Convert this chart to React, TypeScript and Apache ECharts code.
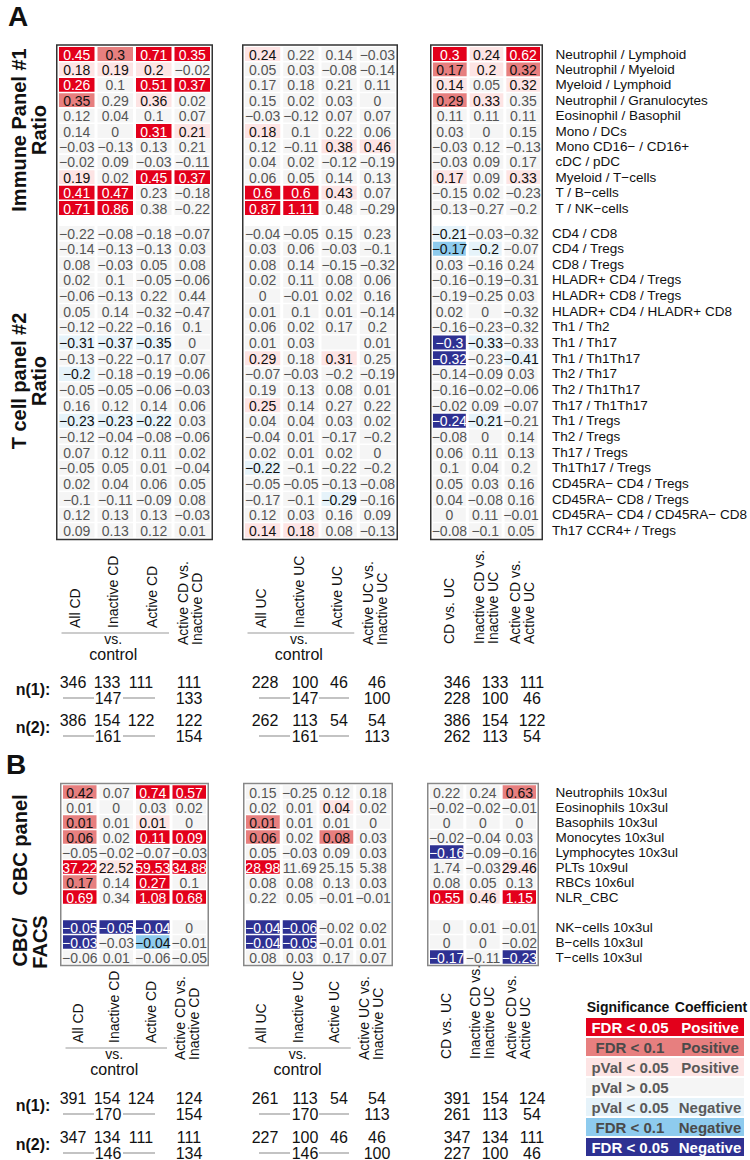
import React, { useEffect, useRef } from 'react';
import * as echarts from 'echarts';

// ---------------- Row / column categories ----------------
const immuneRows = [
  'Neutrophil / Lymphoid', 'Neutrophil / Myeloid', 'Myeloid / Lymphoid', 'Neutrophil / Granulocytes',
  'Eosinophil / Basophil', 'Mono / DCs', 'Mono CD16− / CD16+', 'cDC / pDC', 'Myeloid / T−cells',
  'T / B−cells', 'T / NK−cells',
];
const tcellRows = [
  'CD4 / CD8', 'CD4 / Tregs', 'CD8 / Tregs', 'HLADR+ CD4 / Tregs', 'HLADR+ CD8 / Tregs',
  'HLADR+ CD4 / HLADR+ CD8', 'Th1 / Th2', 'Th1 / Th17', 'Th1 / Th1Th17', 'Th2 / Th17', 'Th2 / Th1Th17',
  'Th17 / Th1Th17', 'Th1 / Tregs', 'Th2 / Tregs', 'Th17 / Tregs', 'Th1Th17 / Tregs', 'CD45RA− CD4 / Tregs',
  'CD45RA− CD8 / Tregs', 'CD45RA− CD4 / CD45RA− CD8', 'Th17 CCR4+ / Tregs',
];
const cbcRows = [
  'Neutrophils 10x3ul', 'Eosinophils 10x3ul', 'Basophils 10x3ul', 'Monocytes 10x3ul',
  'Lymphocytes 10x3ul', 'PLTs 10x9ul', 'RBCs 10x6ul', 'NLR_CBC',
];
const facsRows = ['NK−cells 10x3ul', 'B−cells 10x3ul', 'T−cells 10x3ul'];

const cdCols = ['All CD', 'Inactive CD', 'Active CD', 'Active CD vs.\nInactive CD'];
const ucCols = ['All UC', 'Inactive UC', 'Active UC', 'Active UC vs.\nInactive UC'];
const cmpCols = ['CD vs. UC', 'Inactive CD vs.\nInactive UC', 'Active CD vs.\nActive UC'];

// significance codes: R FDR<0.05 pos, r FDR<0.1 pos, p pVal<0.05 pos, . n.s., q pVal<0.05 neg, b FDR<0.1 neg, B FDR<0.05 neg
// ---------------- Panel A: immune ----------------
const immuneCD = [
  [0.45, 0.3, 0.71, 0.35], [0.18, 0.19, 0.2, -0.02], [0.26, 0.1, 0.51, 0.37], [0.35, 0.29, 0.36, 0.02],
  [0.12, 0.04, 0.1, 0.07], [0.14, 0, 0.31, 0.21], [-0.03, -0.13, 0.13, 0.21], [-0.02, 0.09, -0.03, -0.11],
  [0.19, 0.02, 0.45, 0.37], [0.41, 0.47, 0.23, -0.18], [0.71, 0.86, 0.38, -0.22],
];
const immuneCDSig = ['RrRR', 'ppp.', 'R.RR', 'r.p.', '....', '..Rp', '....', '....', 'p.RR', 'RR..', 'RR..'];
const immuneUC = [
  [0.24, 0.22, 0.14, -0.03], [0.05, 0.03, -0.08, -0.14], [0.17, 0.18, 0.21, 0.11], [0.15, 0.02, 0.03, 0],
  [-0.03, -0.12, 0.07, 0.07], [0.18, 0.1, 0.22, 0.06], [0.12, -0.11, 0.38, 0.46], [0.04, 0.02, -0.12, -0.19],
  [0.06, 0.05, 0.14, 0.13], [0.6, 0.6, 0.43, 0.07], [0.87, 1.11, 0.48, -0.29],
];
const immuneUCSig = ['p...', '....', '....', '....', '....', 'p...', '..pp', '....', '....', 'RRp.', 'RR..'];
const immuneCmp = [
  [0.3, 0.24, 0.62], [0.17, 0.2, 0.32], [0.14, 0.05, 0.32], [0.29, 0.33, 0.35], [0.11, 0.11, 0.11],
  [0.03, 0, 0.15], [-0.03, 0.12, -0.13], [-0.03, 0.09, 0.17], [0.17, 0.09, 0.33], [-0.15, 0.02, -0.23],
  [-0.13, -0.27, -0.2],
];
const immuneCmpSig = ['RpR', 'rpr', 'p.p', 'rp.', '...', '...', '...', '...', 'p.p', '...', '...'];

// ---------------- Panel A: T cell ----------------
const tcellCD = [
  [-0.22, -0.08, -0.18, -0.07], [-0.14, -0.13, -0.13, 0.03], [0.08, -0.03, 0.05, 0.08], [0.02, 0.1, -0.05, -0.06],
  [-0.06, -0.13, 0.22, 0.44], [0.05, 0.14, -0.32, -0.47], [-0.12, -0.22, -0.16, 0.1], [-0.31, -0.37, -0.35, 0],
  [-0.13, -0.22, -0.17, 0.07], [-0.2, -0.18, -0.19, -0.06], [-0.05, -0.05, -0.06, -0.03], [0.16, 0.12, 0.14, 0.06],
  [-0.23, -0.23, -0.22, 0.03], [-0.12, -0.04, -0.08, -0.06], [0.07, 0.12, 0.11, 0.02], [-0.05, 0.05, 0.01, -0.04],
  [0.02, 0.04, 0.06, 0.05], [-0.1, -0.11, -0.09, 0.08], [0.12, 0.13, 0.13, -0.03], [0.09, 0.13, 0.12, 0.01],
];
const tcellCDSig = ['....', '....', '....', '....', '....', '....', '....', 'qqq.', '....', 'q...',
  '....', '....', 'qqq.', '....', '....', '....', '....', '....', '....', '....'];
const tcellUC: (number | null)[][] = [
  [-0.04, -0.05, 0.15, 0.23], [0.03, 0.06, -0.03, -0.1], [0.08, 0.14, -0.15, -0.32], [0.02, 0.11, 0.08, 0.06],
  [0, -0.01, 0.02, 0.16], [0.01, 0.1, 0.01, -0.14], [0.06, 0.02, 0.17, 0.2], [0.01, 0.03, null, 0.01],
  [0.29, 0.18, 0.31, 0.25], [-0.07, -0.03, -0.2, -0.19], [0.19, 0.13, 0.08, 0.01], [0.25, 0.14, 0.27, 0.22],
  [0.04, 0.04, 0.03, 0.02], [-0.04, 0.01, -0.17, -0.2], [0.02, 0.01, 0.02, 0], [-0.22, -0.1, -0.22, -0.2],
  [-0.05, -0.05, -0.13, -0.08], [-0.17, -0.1, -0.29, -0.16], [0.12, 0.03, 0.16, 0.09], [0.14, 0.18, 0.08, -0.13],
];
const tcellUCSig = ['....', '....', '....', '....', '....', '....', '....', '....', 'p.p.', '....',
  '....', 'p...', '....', '....', '....', 'q...', '....', '..q.', '....', 'pp..'];
const tcellCmp = [
  [-0.21, -0.03, -0.32], [-0.17, -0.2, -0.07], [0.03, -0.16, 0.24], [-0.16, -0.19, -0.31], [-0.19, -0.25, 0.03],
  [0.02, 0, -0.32], [-0.16, -0.23, -0.32], [-0.3, -0.33, -0.33], [-0.32, -0.23, -0.41], [-0.14, -0.09, 0.03],
  [-0.16, -0.02, -0.06], [-0.02, 0.09, -0.07], [-0.24, -0.21, -0.21], [-0.08, 0, 0.14], [0.06, 0.11, 0.13],
  [0.1, 0.04, 0.2], [0.05, 0.03, 0.16], [0.04, -0.08, 0.16], [0, 0.11, -0.01], [-0.08, -0.1, 0.05],
];
const tcellCmpSig = ['q..', 'bq.', '...', '...', '...', '...', '...', 'Bq.', 'B.q', '...',
  '...', '...', 'Bq.', '...', '...', '...', '...', '...', '...', '...'];

// ---------------- Panel B ----------------
const cbcCD = [
  [0.42, 0.07, 0.74, 0.57], [0.01, 0, 0.03, 0.02], [0.01, 0.01, 0.01, 0], [0.06, 0.02, 0.11, 0.09],
  [-0.05, -0.02, -0.07, -0.03], [37.22, 22.52, 59.53, 34.88], [0.17, 0.14, 0.27, 0.1], [0.69, 0.34, 1.08, 0.68],
];
const cbcCDSig = ['r.RR', '....', 'r.p.', 'r.RR', '....', 'RpRR', 'r.R.', 'R.RR'];
const facsCD = [[-0.05, -0.05, -0.04, 0], [-0.03, -0.03, -0.04, -0.01], [-0.06, 0.01, -0.06, -0.05]];
const facsCDSig = ['BBB.', 'B.b.', '....'];
const cbcUC = [
  [0.15, -0.25, 0.12, 0.18], [0.02, 0.01, 0.04, 0.02], [0.01, 0.01, 0.01, 0], [0.06, 0.02, 0.08, 0.03],
  [0.05, -0.03, 0.09, 0.03], [28.98, 11.69, 25.15, 5.38], [0.08, 0.08, 0.13, 0.03], [0.22, 0.05, -0.01, -0.01],
];
const cbcUCSig = ['....', '..p.', 'r...', 'r.r.', '....', 'R...', '....', '....'];
const facsUC = [[-0.04, -0.06, -0.02, 0.02], [-0.04, -0.05, -0.01, 0.01], [0.08, 0.03, 0.17, 0.07]];
const facsUCSig = ['BB..', 'BB..', '....'];
const cbcCmp = [
  [0.22, 0.24, 0.63], [-0.02, -0.02, -0.01], [0, 0, 0], [-0.02, -0.04, 0.03], [-0.16, -0.09, -0.16],
  [1.74, -0.03, 29.46], [0.08, 0.05, 0.13], [0.55, 0.46, 1.15],
];
const cbcCmpSig = ['..r', '...', '...', '...', 'B..', '..p', '...', 'RpR'];
const facsCmp = [[0, 0.01, -0.01], [0, 0, -0.02], [-0.17, -0.11, -0.23]];
const facsCmpSig = ['...', '...', 'B.B'];

// ---------------- Sample sizes ----------------
const nA1_CD = [346, 133, 111, 111]; const nA1_CDref = [147, 133];
const nA1_UC = [228, 100, 46, 46]; const nA1_UCref = [147, 100];
const nA1_CmpCD = [346, 133, 111]; const nA1_CmpUC = [228, 100, 46];
const nA2_CD = [386, 154, 122, 122]; const nA2_CDref = [161, 154];
const nA2_UC = [262, 113, 54, 54]; const nA2_UCref = [161, 113];
const nA2_CmpCD = [386, 154, 122]; const nA2_CmpUC = [262, 113, 54];
const nB1_CD = [391, 154, 124, 124]; const nB1_CDref = [170, 154];
const nB1_UC = [261, 113, 54, 54]; const nB1_UCref = [170, 113];
const nB1_CmpCD = [391, 154, 124]; const nB1_CmpUC = [261, 113, 54];
const nB2_CD = [347, 134, 111, 111]; const nB2_CDref = [146, 134];
const nB2_UC = [227, 100, 46, 46]; const nB2_UCref = [146, 100];
const nB2_CmpCD = [347, 134, 111]; const nB2_CmpUC = [227, 100, 46];

// ---------------- Legend ----------------
const legendCodes = ['R', 'r', 'p', '.', 'q', 'b', 'B'];
const legendSig = ['FDR < 0.05', 'FDR < 0.1', 'pVal < 0.05', 'pVal > 0.05', 'pVal < 0.05', 'FDR < 0.1', 'FDR < 0.05'];
const legendCoef = ['Positive', 'Positive', 'Positive', '', 'Negative', 'Negative', 'Negative'];

// ---------------- Styling ----------------
const FILL: Record<string, string> = {
  R: '#e3001b', r: '#e77f7f', p: '#fde4e4', '.': '#f5f5f5', q: '#e6f3fa', b: '#8ecbee', B: '#2e3192',
};
const INK: Record<string, string> = {
  R: '#ffffff', r: '#111111', p: '#111111', '.': '#555555', q: '#111111', b: '#111111', B: '#ffffff',
};
const LEGEND_INK: Record<string, string> = {
  R: '#ffffff', r: '#4a4a4a', p: '#5a5a5a', '.': '#5a5a5a', q: '#5a5a5a', b: '#4a4a4a', B: '#ffffff',
};
const FF = '"Liberation Sans", Arial, sans-serif';

const fmt = (v: number) => String(v).replace('-', '−');

type GridDef = {
  left: number; top: number; width: number; height: number;
  rows: string[]; cols: string[]; values: (number | null)[][]; sig: string[];
  labels: boolean; margin: number;
};

function buildOption() {
  const AX = [[57.5, 154], [243.5, 153], [431.5, 110]];
  const BX = [[61.5, 146], [244.5, 147], [428.5, 109]];
  const aImm = { top: 46.3, h: 169.4 };
  const aT = { top: 225.2, h: 313 };
  const bC = { top: 784.5, h: 120 };
  const bF = { top: 919.5, h: 45 };

  const grids: GridDef[] = [
    { left: AX[0][0], top: aImm.top, width: AX[0][1], height: aImm.h, rows: immuneRows, cols: cdCols, values: immuneCD, sig: immuneCDSig, labels: false, margin: 0 },
    { left: AX[0][0], top: aT.top, width: AX[0][1], height: aT.h, rows: tcellRows, cols: cdCols, values: tcellCD, sig: tcellCDSig, labels: false, margin: 0 },
    { left: AX[1][0], top: aImm.top, width: AX[1][1], height: aImm.h, rows: immuneRows, cols: ucCols, values: immuneUC, sig: immuneUCSig, labels: false, margin: 0 },
    { left: AX[1][0], top: aT.top, width: AX[1][1], height: aT.h, rows: tcellRows, cols: ucCols, values: tcellUC, sig: tcellUCSig, labels: false, margin: 0 },
    { left: AX[2][0], top: aImm.top, width: AX[2][1], height: aImm.h, rows: immuneRows, cols: cmpCols, values: immuneCmp, sig: immuneCmpSig, labels: true, margin: 14 },
    { left: AX[2][0], top: aT.top, width: AX[2][1], height: aT.h, rows: tcellRows, cols: cmpCols, values: tcellCmp, sig: tcellCmpSig, labels: true, margin: 13 },
    { left: BX[0][0], top: bC.top, width: BX[0][1], height: bC.h, rows: cbcRows, cols: cdCols, values: cbcCD, sig: cbcCDSig, labels: false, margin: 0 },
    { left: BX[0][0], top: bF.top, width: BX[0][1], height: bF.h, rows: facsRows, cols: cdCols, values: facsCD, sig: facsCDSig, labels: false, margin: 0 },
    { left: BX[1][0], top: bC.top, width: BX[1][1], height: bC.h, rows: cbcRows, cols: ucCols, values: cbcUC, sig: cbcUCSig, labels: false, margin: 0 },
    { left: BX[1][0], top: bF.top, width: BX[1][1], height: bF.h, rows: facsRows, cols: ucCols, values: facsUC, sig: facsUCSig, labels: false, margin: 0 },
    { left: BX[2][0], top: bC.top, width: BX[2][1], height: bC.h, rows: cbcRows, cols: cmpCols, values: cbcCmp, sig: cbcCmpSig, labels: true, margin: 18 },
    { left: BX[2][0], top: bF.top, width: BX[2][1], height: bF.h, rows: facsRows, cols: cmpCols, values: facsCmp, sig: facsCmpSig, labels: true, margin: 18 },
  ];

  const series = grids.map((g, gi) => {
    const items: { c: number; r: number; text: string; code: string }[] = [];
    g.values.forEach((row, r) =>
      row.forEach((v, c) => items.push({ c, r, text: v === null ? '' : fmt(v), code: g.sig[r][c] })),
    );
    return {
      type: 'custom',
      xAxisIndex: gi,
      yAxisIndex: gi,
      silent: true,
      data: items.map((it) => [it.c, it.r]),
      renderItem: (params: any, api: any) => {
        const it = items[params.dataIndex];
        const p = api.coord([it.c, it.r]);
        const sz = api.size([1, 1]);
        const w = sz[0] - 3;
        const h = sz[1] - 1.6;
        return {
          type: 'group',
          children: [
            { type: 'rect', shape: { x: p[0] - w / 2, y: p[1] - h / 2, width: w, height: h }, style: { fill: FILL[it.code] } },
            {
              type: 'text', x: p[0], y: p[1] + 0.5,
              style: {
                text: it.text, fill: INK[it.code], font: `14px ${FF}`,
                align: 'center', verticalAlign: 'middle', textAlign: 'center', textVerticalAlign: 'middle',
              },
            },
          ],
        };
      },
    };
  });

  const graphic: any[] = [];
  const txt = (x: number, y: number, text: string, font: string, fill = '#111', align = 'center', extra: any = {}) => {
    const { lh, ...rest } = extra;
    graphic.push({
      type: 'text', x, y, silent: true, ...rest,
      style: { text, font, fill, align, verticalAlign: 'middle', textAlign: align, textVerticalAlign: 'middle', lineHeight: lh },
    });
  };
  const rot = (x: number, y: number, text: string, font: string, lh: number, align = 'left') =>
    txt(x, y, text, font, '#111', align, { rotation: Math.PI / 2, lh });
  const hline = (x1: number, x2: number, y: number, color = '#9a9a9a', w = 1.2) =>
    graphic.push({ type: 'line', silent: true, shape: { x1, y1: y, x2, y2: y }, style: { stroke: color, lineWidth: w } });
  const box = (x: number, y: number, w: number, h: number, color: string) =>
    graphic.push({ type: 'rect', silent: true, z: 100, shape: { x, y, width: w, height: h }, style: { fill: 'none', stroke: color, lineWidth: 1.5 } });

  // panel letters
  txt(18, 16, 'A', `bold 28px ${FF}`, '#111');
  txt(16, 764, 'B', `bold 28px ${FF}`, '#111');

  // side titles
  rot(29, 130, 'Immune Panel #1\nRatio', `bold 20px ${FF}`, 20, 'center');
  rot(29, 381, 'T cell panel #2\nRatio', `bold 20px ${FF}`, 20, 'center');
  rot(20, 845, 'CBC panel', `bold 20px ${FF}`, 20, 'center');
  rot(30, 942, 'CBC/\nFACS', `bold 20px ${FF}`, 20, 'center');

  // boxes
  AX.forEach(([l, w]) => box(l - 0.75, 45, w + 1.5, 494.5, '#333'));
  BX.forEach(([l, w]) => box(l - 0.75, 783.5, w + 1.5, 182, '#888'));

  // column labels
  const colLabels = (X: number[][], base: number) => {
    const lab = `14px ${FF}`;
    [cdCols, ucCols].forEach((cols, pi) => {
      const [l, w] = X[pi];
      const pitch = w / 4;
      cols.forEach((c, i) => {
        const cx = l + pitch * (i + 0.5) - 2;
        const two = c.includes('\n');
        rot(cx, two ? base + 17 : base, c, lab, 14);
      });
      const mid = l + pitch * 1.5;
      hline(l + 4, l + pitch * 3 - 4, base + 5);
      txt(mid - 2, base + 11, 'vs.', `14px ${FF}`, '#111', 'center', { lh: 13 });
      txt(mid - 2, base + 26, 'control', `16px ${FF}`, '#111', 'center', { lh: 15 });
    });
    const [l, w] = X[2];
    const pitch = w / 3;
    cmpCols.forEach((c, i) => rot(l + pitch * (i + 0.5) - 1, base + 16, c, lab, 14));
  };
  colLabels(AX, 628);
  colLabels(BX, 1043);

  // sample sizes
  const nf = `16px ${FF}`;
  const nBlock = (
    y: number, label: string,
    cd: number[], cdRef: number[], uc: number[], ucRef: number[], cmpCD: number[], cmpUC: number[],
  ) => {
    txt(33, y + 7, label, `bold 16px ${FF}`);
    const lx = [73, 107, 141, 189];
    const mx = [265, 305, 339, 377];
    const rx = [457, 495, 532];
    cd.forEach((v, i) => txt(lx[i], y, String(v), nf, '#111', 'center', { lh: 16 }));
    uc.forEach((v, i) => txt(mx[i], y, String(v), nf, '#111', 'center', { lh: 16 }));
    txt(108, y + 16, String(cdRef[0]), nf, '#111', 'center', { lh: 16 });
    hline(63, 94, y + 16); hline(123, 155, y + 16);
    txt(lx[3], y + 16, String(cdRef[1]), nf, '#111', 'center', { lh: 16 });
    txt(305, y + 16, String(ucRef[0]), nf, '#111', 'center', { lh: 16 });
    hline(259, 290, y + 16); hline(319, 349, y + 16);
    txt(mx[3], y + 16, String(ucRef[1]), nf, '#111', 'center', { lh: 16 });
    cmpCD.forEach((v, i) => txt(rx[i], y, String(v), nf, '#111', 'center', { lh: 16 }));
    cmpUC.forEach((v, i) => txt(rx[i], y + 16, String(v), nf, '#111', 'center', { lh: 16 }));
  };
  nBlock(682, 'n(1):', nA1_CD, nA1_CDref, nA1_UC, nA1_UCref, nA1_CmpCD, nA1_CmpUC);
  nBlock(720, 'n(2):', nA2_CD, nA2_CDref, nA2_UC, nA2_UCref, nA2_CmpCD, nA2_CmpUC);
  nBlock(1098, 'n(1):', nB1_CD, nB1_CDref, nB1_UC, nB1_UCref, nB1_CmpCD, nB1_CmpUC);
  nBlock(1137, 'n(2):', nB2_CD, nB2_CDref, nB2_UC, nB2_UCref, nB2_CmpCD, nB2_CmpUC);

  // legend
  const LX = 586, LW = 158, rowH = 20, LY = 1017;
  const sigX = LX + 44, coefX = LX + 124;
  txt(sigX - 2, 1007, 'Significance', `bold 14px ${FF}`);
  txt(coefX + 1, 1007, 'Coefficient', `bold 14px ${FF}`);
  legendCodes.forEach((code, i) => {
    const y = LY + i * rowH;
    graphic.push({ type: 'rect', silent: true, shape: { x: LX, y: y + 1, width: LW, height: rowH - 2 }, style: { fill: FILL[code] } });
    txt(sigX, y + rowH / 2, legendSig[i], `bold 15px ${FF}`, LEGEND_INK[code]);
    if (legendCoef[i]) txt(coefX, y + rowH / 2, legendCoef[i], `bold 15px ${FF}`, LEGEND_INK[code]);
  });

  return {
    animation: false,
    backgroundColor: '#ffffff',
    grid: grids.map((g) => ({ left: g.left, top: g.top, width: g.width, height: g.height, containLabel: false })),
    xAxis: grids.map((g, i) => ({ type: 'category', gridIndex: i, data: g.cols, show: false })),
    yAxis: grids.map((g, i) => ({
      type: 'category', gridIndex: i, data: g.rows, inverse: true, show: g.labels, position: 'right',
      axisLine: { show: false }, axisTick: { show: false }, splitLine: { show: false },
      axisLabel: { show: g.labels, margin: g.margin, color: '#111', fontSize: 13.5, fontFamily: FF, interval: 0 },
    })),
    series,
    graphic,
  };
}

export default function App() {
  const ref = useRef<HTMLDivElement>(null);
  useEffect(() => {
    if (!ref.current) return;
    const chart = echarts.init(ref.current, null, { renderer: 'svg', width: 750, height: 1160 });
    chart.setOption(buildOption() as any);
    return () => chart.dispose();
  }, []);
  return (
    <div
      ref={ref}
      style={{ position: 'absolute', left: 0, top: 0, width: 750, height: 1160, background: '#fff' }}
    />
  );
}
